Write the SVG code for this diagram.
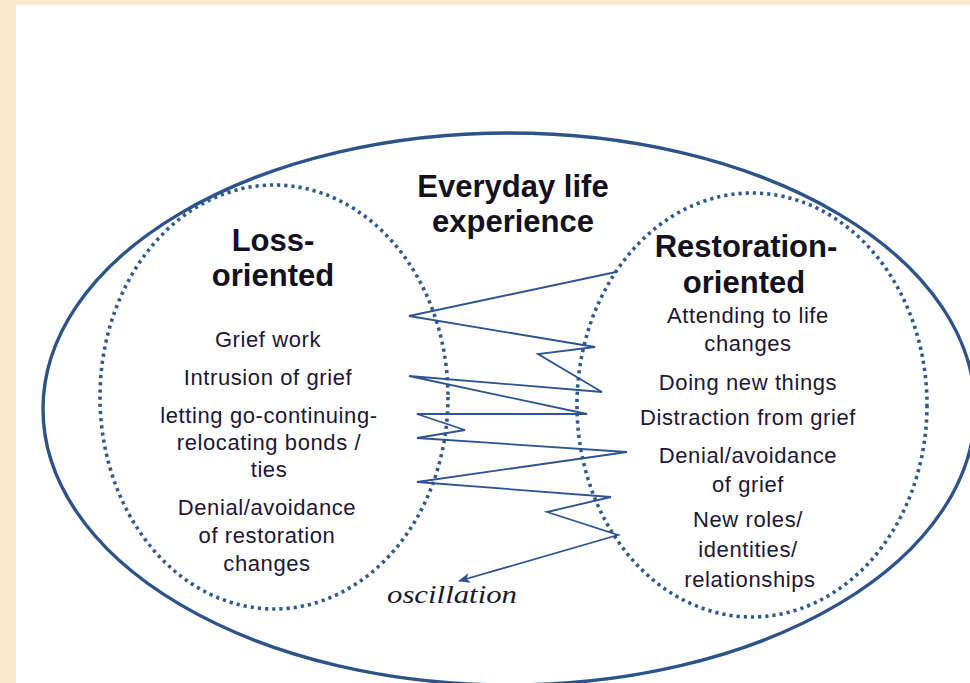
<svg xmlns="http://www.w3.org/2000/svg" width="970" height="683" viewBox="0 0 970 683">
<defs>
<style>
.big{fill:none;stroke:#2E5388;stroke-width:3.4}
.dot{fill:none;stroke:#335A8E;stroke-width:3.6;stroke-dasharray:3.2 4}
.zz{fill:none;stroke:#2F5491;stroke-width:1.8;stroke-linejoin:miter}
.h{font-family:"Liberation Sans",Arial,sans-serif;font-weight:bold;font-size:31px;fill:#141020;text-anchor:middle}
.t{font-family:"Liberation Sans",Arial,sans-serif;font-size:22px;fill:#1E1634;text-anchor:middle;letter-spacing:0.6px}
.osc{font-family:"Liberation Serif","Times New Roman",serif;font-style:italic;font-size:25px;fill:#1A1A2E}
</style>
<marker id="arr" viewBox="0 0 12 10" refX="11" refY="5" markerWidth="13" markerHeight="10" markerUnits="userSpaceOnUse" orient="auto">
<path d="M0,0 L12,5 L0,10 L3,5 Z" fill="#2F5491"/>
</marker>
</defs>
<rect x="0" y="0" width="970" height="683" fill="#FBE6CE"/>
<rect x="16" y="5" width="954" height="678" fill="#FFFFFF"/>
<g id="everyday">
<ellipse class="big" cx="509" cy="409" rx="466" ry="276"/>
<text class="h" x="513" y="197">Everyday life</text>
<text class="h" x="513" y="232">experience</text>
</g>
<g id="loss">
<ellipse class="dot" cx="274" cy="397" rx="174" ry="212"/>
<text class="h" x="273" y="251">Loss-</text>
<text class="h" x="273" y="286">oriented</text>
<text class="t" x="268" y="347">Grief work</text>
<text class="t" x="268" y="385">Intrusion of grief</text>
<text class="t" x="269" y="423">letting go-continuing-</text>
<text class="t" x="269" y="450">relocating bonds /</text>
<text class="t" x="269" y="477">ties</text>
<text class="t" x="267" y="515">Denial/avoidance</text>
<text class="t" x="267" y="543">of restoration</text>
<text class="t" x="267" y="571">changes</text>
</g>
<g id="restoration">
<ellipse class="dot" cx="752" cy="405" rx="175" ry="212"/>
<text class="h" x="746" y="257">Restoration-</text>
<text class="h" x="744" y="293">oriented</text>
<text class="t" x="748" y="323">Attending to life</text>
<text class="t" x="748" y="351">changes</text>
<text class="t" x="748" y="390">Doing new things</text>
<text class="t" x="748" y="425">Distraction from grief</text>
<text class="t" x="748" y="463">Denial/avoidance</text>
<text class="t" x="748" y="492">of grief</text>
<text class="t" x="748" y="527">New roles/</text>
<text class="t" x="748" y="557">identities/</text>
<text class="t" x="750" y="587">relationships</text>
</g>
<g id="connectors">
<polyline class="zz" marker-end="url(#arr)" points="616,272 409,316 595,347 538,354 602,392 409,376 587,414 417,414 465,430 417,438 627,452 417,482 611,497 547,512 618,535 459,581"/>
</g>
<g id="oscillation-label">
<text class="osc" x="387" y="603" textLength="130" lengthAdjust="spacingAndGlyphs">oscillation</text>
</g>
</svg>
